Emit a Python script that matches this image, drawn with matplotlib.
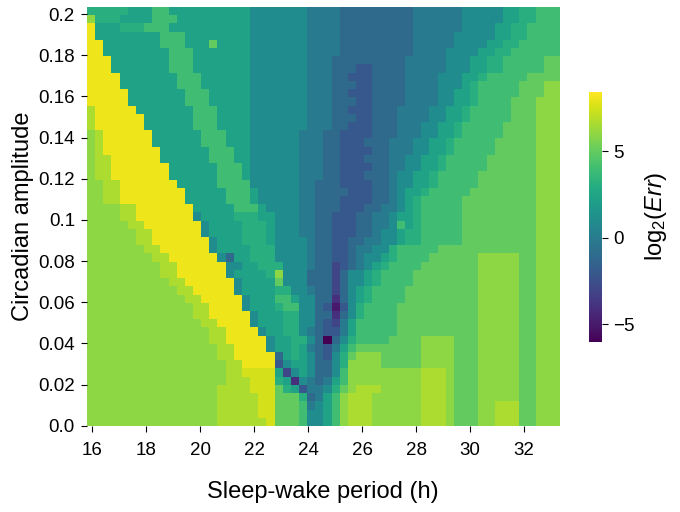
import numpy as np
import matplotlib
matplotlib.use("Agg")
import matplotlib.pyplot as plt

plt.rcParams['font.family'] = ['Liberation Sans', 'DejaVu Sans']
plt.rcParams['mathtext.fontset'] = 'custom'
plt.rcParams['mathtext.rm'] = 'Liberation Sans'
plt.rcParams['mathtext.it'] = 'Liberation Sans:italic'

# axis ranges (cell edges) of the heatmap
period_edges = [15.79, 33.29]      # sleep-wake period (h)
amp_edges = [0.0, 0.2034]          # circadian amplitude
x_ticks = [16, 18, 20, 22, 24, 26, 28, 30, 32]
y_ticks = [0.0, 0.02, 0.04, 0.06, 0.08, 0.1, 0.12, 0.14, 0.16, 0.18, 0.2]
y_tick_labels = ['0.0', '0.02', '0.04', '0.06', '0.08', '0.1',
                 '0.12', '0.14', '0.16', '0.18', '0.2']
cbar_ticks = [-5, 0, 5]
err_min, err_max = -6, 8.45

level = {'0': -6, '1': -5, '2': -4, '3': -3, '4': -2, '5': -1, '6': -0.1,
         '7': 1, '8': 2.3, '9': 3.1, 'A': 4, 'B': 5, 'C': 6, 'D': 6.7,
         'e': 7.5, 'E': 8.1}

# grid rows from amplitude 0.2 (top) down to 0, 58 cells each,
# written as runs "code*count"
err_rows = [
    "9*5 8*3 A*2 8*10 7*7 6*4 5*9 6*6 7*5 8*2 9*2 A*3",
    "C 9*3 8*4 A*3 8*9 7*7 6*4 5*9 6*6 7*5 8*2 9*2 A*3",
    "E 8*3 9*3 A*3 8*10 7*7 6*4 5*9 6*6 7*4 8*2 9*2 A*4",
    "E 8*8 A*3 8*8 7*7 6*4 5*9 6*5 7*5 8*2 9*2 A*4",
    "E*2 8*7 A*3 8*3 B 8*4 7*7 6*4 5*9 6*5 7*4 8*2 9*2 A*5",
    "E*2 8*8 A*3 8*7 7*7 6*4 5*9 6*4 7*4 8*2 9*2 A*6",
    "E*3 8*7 A*3 8*7 7*7 6*3 5*9 6*5 7*3 8*2 9*2 A*5 B*2",
    "E*3 8*7 A*3 8*7 7*7 6*3 5*3 4*2 5*4 6*5 7*3 8*2 9*2 A*5 B*2",
    "E*4 8*7 A*3 8*6 7*7 6*3 5*2 4*3 5*4 6*4 7*3 8*2 9 A*5 B*4",
    "E*4 8*7 A*3 8*6 7*7 6*3 5*3 4*2 5*4 6*4 7*3 8 9 A*5 B*3 C*2",
    "E*5 8*7 A*3 8*5 7*7 6*3 5*2 4*3 5*4 6*4 7*2 8*2 9 A*5 B*3 C*2",
    "E*5 8*7 A*3 8*5 7*7 6*3 5*3 4*2 5*4 6*4 7*2 8*2 9 A*4 B*3 C*3",
    "D E*5 8*7 A*3 8*4 7*7 6*3 5*2 4*3 5*3 6*4 7*2 8*2 9 A*5 B*3 C*3",
    "D E*6 8*6 A*3 8*4 7*7 6*3 5*3 4*2 5*3 6*4 7*2 8*2 9 A*5 B*3 C*3",
    "D E*6 8*6 A*3 8*4 7*7 6*3 5*2 4*3 5*3 6*3 7*2 8*2 9 A*5 B*4 C*3",
    "C D E*6 8*6 A*3 8*3 7*6 6*3 5*2 4*4 5*3 6*3 7*2 8*2 9 A*5 B*4 C*3",
    "C D E*6 8*6 A*3 8*3 7*6 6*3 5*2 4*3 5*3 6*3 7*2 8*2 9 A*5 B*5 C*3",
    "C D E*7 8*6 A*3 8*2 7*6 6*3 5*2 4*4 5*2 6*3 7*2 8*2 9 A*5 B*5 C*3",
    "C D*2 E*6 8*6 A*3 8*2 7*6 6*3 5*2 4*3 5*3 6*2 7*2 8*2 9 A*5 B*6 C*3",
    "C D*2 E*7 8*6 A*3 8 7*6 6*3 5*2 4*4 5*2 6*2 7*2 8*2 9 A*5 B*6 C*3",
    "C D*2 E*7 8*6 A*3 8 7*6 6*3 5*2 4*3 5*3 6 7*2 8*2 9 A*5 B*7 C*3",
    "C*2 D*2 E*7 8*5 A*4 7*6 6*2 5*3 4*4 5*2 6 7*2 8*2 9 A*5 B*7 C*3",
    "C*2 D*2 E*8 8*5 A*3 8 7*5 6*2 5*4 4*3 5*2 6 7 8*2 9 A*5 B*8 C*3",
    "C*2 D*2 E*8 8*5 A*3 8 7*5 6*2 5*3 4*4 5*2 6 7 8 9 A*5 B*9 C*3",
    "C*4 D*2 E*7 8*5 A*3 8 7*4 6*2 5*3 4*3 5*2 6*2 7 8 9 A*5 B*9 C*3",
    "C*4 D*2 E*7 7 8*4 9*3 8*2 7*3 6*2 5*2 4*3 5*2 6*2 7 8*2 9 A*5 B*9 C*3",
    "C*5 D*2 E*7 7 8*4 9*3 8 7*3 6*2 5*2 4*3 5*2 6*2 7 A 8 9 A*5 B*9 C*3",
    "C*6 D*2 E*6 7 8*4 9*3 8 7*3 6*2 5*2 4*3 5*2 6 7*2 8 9*2 A*5 B*9 C*3",
    "C*6 D*2 E*7 7 8*3 9*3 8 7*4 6 5*2 4*2 5*2 6*2 7*2 8 9*2 A*5 B*9 C*3",
    "C*7 D*2 E*6 7 8*4 9*3 7*4 6 5*2 4*2 5 6*2 7*2 9 A*5 B*12 C*3",
    "C*8 D*2 E*6 7 5 8*2 9*3 7*4 6 5*2 4*2 5 6 7*2 8 9 A*4 B*6 C*5 B*2 C*3",
    "C*9 D*2 E*6 7*2 8*2 9*3 7*3 6 5*2 3 4 5 6 7 8 9 A*4 B*7 C*5 B*2 C*3",
    "C*9 D*2 E*6 7 8*4 9 C 7*3 5*3 3 5 7*2 8 9 A*4 B*8 C*5 B*2 C*3",
    "C*10 D*2 E*6 7 8*4 B 7*3 5*3 3 5 7*2 8 9 A*4 B*8 C*5 B*2 C*3",
    "C*11 D*2 E*5 7 8*4 9*2 7*2 6 5*2 3 5 7 8 9 A*4 B*9 C*5 B*2 C*3",
    "C*12 D*2 E*5 7 8*3 A*2 8 7*2 5*2 2 5 7 8 9 A*4 B*9 C*5 B*2 C*3",
    "C*13 D*2 E*4 7 8*3 9 A*2 7*2 5 4 1 4 7 9 A*4 B*10 C*5 B*2 C*3",
    "C*13 D*2 E*5 7 8*3 9*2 7*2 5*2 2 5 7 9 A*4 B*10 C*5 B*2 C*3",
    "C*14 D*2 E*4 7 8*3 9*2 7*2 5 4 3 6 8 A*5 B*10 C*5 B*2 C*3",
    "C*15 D*2 E*4 7 8*2 9*2 7 6 5 4*2 6 8 A*5 B*10 C*5 B*2 C*3",
    "C*15 D*2 E*5 7 8*2 9*2 7 5 0 5 7 9 A*4 B*4 C*4 B*3 C*5 B*2 C*3",
    "C*16 D*2 E*4 7 8*2 9 8 6 5 4 6 8 A B*8 C*4 B*3 C*5 B*2 C*3",
    "C*16 D*2 E*5 5 8 9 8 7 5 4 7 9 B C*3 B*5 C*4 B*3 C*5 B*2 C*3",
    "C*17 D*2 E*4 4 7 8*2 7 5*2 7 9 C*4 B*5 C*4 B*3 C*5 B*2 C*3",
    "C*17 D*2 e*4 8 3 7 8 7 5*2 7 A C*9 D*3 C B*3 C*5 B*2 C*3",
    "C*17 D*3 e*3 9 8 2 7 6 5 6 8 A C*9 D*3 C B*3 C*5 B*2 C*3",
    "C*16 D*4 e*3 B 9 8 4 6*2 7 9 B C D*3 C*5 D*3 C B*3 C*5 B*2 C*3",
    "C*16 D*5 e*2 B*3 9 5 6 8 A C D*3 C*6 D*3 C B*3 C*5 B*2 C*3",
    "C*16 D*5 e*2 B*3 A 6 7 8 A C D*3 C*6 D*3 C B*3 C*2 D*3 B*2 C*3",
    "C*16 D*5 e*2 B*3 A 7*2 8 A C D*3 C*6 D*3 C B*3 C*2 D*3 B*2 C*3",
    "C*16 D*6 e B*3 A 7*2 8 A C D*3 C*6 D*3 C B*3 C*2 D*3 B*2 C*3",
]


def decode(row):
    cells = []
    for tok in row.split():
        code, _, count = tok.partition('*')
        cells += [level[code]] * int(count or 1)
    assert len(cells) == 58, (row, len(cells))
    return cells


grid = np.array([decode(r) for r in err_rows])

fig = plt.figure(figsize=(6.8, 5.12), dpi=100)
ax = fig.add_axes([0.1275, 0.1686, 0.6946, 0.8177])
im = ax.imshow(grid, cmap='viridis', vmin=err_min, vmax=err_max,
               extent=[period_edges[0], period_edges[1], amp_edges[0], amp_edges[1]],
               aspect='auto', interpolation='nearest', origin='upper')
for s in ax.spines.values():
    s.set_visible(False)

ax.set_xticks(x_ticks)
ax.set_yticks(y_ticks)
ax.set_yticklabels(y_tick_labels)
ax.tick_params(labelsize=13.5, length=4.5, width=0.8, pad=4)
ax.tick_params(axis='x', pad=7)
ax.set_xlabel('Sleep-wake period (h)', fontsize=17, labelpad=16)
ax.set_ylabel('Circadian amplitude', fontsize=17, labelpad=3)

cax = fig.add_axes([0.8666, 0.3326, 0.0191, 0.4883])
cb = fig.colorbar(im, cax=cax, ticks=cbar_ticks)
cb.outline.set_visible(False)
cax.tick_params(labelsize=13.5, length=4, width=0.8, pad=4)
cb.set_label(r'log$_2$($\mathit{Err}$)', fontsize=17, labelpad=6)

fig.savefig('out.png', dpi=100)
